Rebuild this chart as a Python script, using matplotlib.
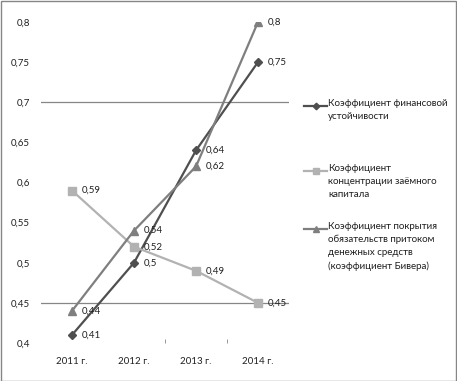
import matplotlib
matplotlib.use("Agg")
import matplotlib.pyplot as plt
import numpy as np
from matplotlib.patches import Rectangle
from matplotlib.lines import Line2D

categories = ["2011 г.", "2012 г.", "2013 г.", "2014 г."]
fin_stability = [0.41, 0.50, 0.64, 0.75]
debt_concentration = [0.59, 0.52, 0.49, 0.45]
beaver = [0.44, 0.54, 0.62, 0.80]
series_names = ["Коэффициент финансовой\nустойчивости",
                "Коэффициент\nконцентрации заёмного\nкапитала",
                "Коэффициент покрытия\nобязательств притоком\nденежных средств\n(коэффициент Бивера)"]
yticks = [0.4, 0.45, 0.5, 0.55, 0.6, 0.65, 0.7, 0.75, 0.8]

plt.rcParams['font.family'] = ['Lato', 'DejaVu Sans']

fig = plt.figure(figsize=(4.57, 3.81), dpi=100)
ax = fig.add_axes([41/457, 1-343/381, 248/457, 321/381])
ax.set_xlim(-0.5, 3.5)
ax.set_ylim(0.4, 0.8)
for s in ax.spines.values():
    s.set_visible(False)

for g in [0.45, 0.7]:
    ax.axhline(g, color='#868686', lw=0.9, zorder=1)

xs = np.arange(len(categories))
styles = [
    (fin_stability, '#4f4f4f', 'D', 4.2),
    (debt_concentration, '#b2b2b2', 's', 5.8),
    (beaver, '#7f7f7f', '^', 6.2),
]
for vals, col, mk, ms in styles:
    ax.plot(xs, vals, color=col, lw=1.6, marker=mk, ms=ms, zorder=3)
    for x, v in zip(xs, vals):
        ax.annotate(f"{v:g}".replace('.', ','), (x, v), xytext=(7, 0),
                    textcoords='offset points', va='center', ha='left',
                    fontsize=7, color='#202020', zorder=5)

ax.set_xticks(xs)
ax.set_xticklabels(categories, fontsize=7, color='#202020')
ax.set_yticks(yticks)
ax.set_yticklabels([f"{t:g}".replace('.', ',') for t in yticks], fontsize=7, color='#202020')
ax.tick_params(axis='both', length=0, pad=8)
ax.tick_params(axis='x', pad=10)
ax.set_xticks([1.5, 2.5], minor=True)
ax.tick_params(axis='x', which='minor', length=3, direction='in', color='#868686')

# legend
entries_y = [104, 169, 227]
for (vals, col, mk, ms), name, ty in zip(styles, series_names, entries_y):
    yf = 1 - (ty + 2)/381
    fig.add_artist(Line2D([304/457, 327/457], [yf, yf], color=col, lw=1.6, transform=fig.transFigure))
    fig.add_artist(Line2D([315.5/457], [yf], marker=mk, ms=ms*0.8, color=col, transform=fig.transFigure))
    fig.text(328/457, 1 - (ty - 5)/381, name, fontsize=7, va='top', ha='left',
             color='#202020', linespacing=1.55)

fig.add_artist(Rectangle((0.5/457, 0.5/381), 455.5/457, 379.5/381, fill=False,
                         edgecolor='#868686', lw=1, transform=fig.transFigure))

fig.savefig("out.png", dpi=100)
